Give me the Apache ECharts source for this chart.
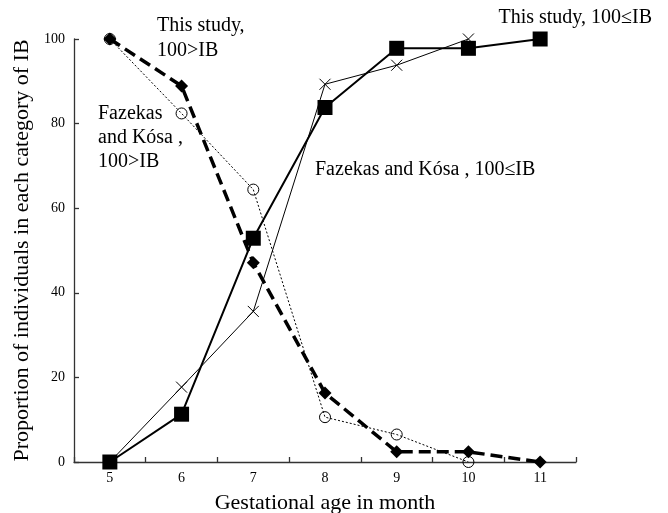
<!DOCTYPE html>
<html><head><meta charset="utf-8">
<script src="https://cdn.jsdelivr.net/npm/echarts@6/dist/echarts.min.js"></script>
<style>html,body{margin:0;padding:0;background:#fff}#c{width:668px;height:513px}</style>
</head><body><div id="c"></div>
<script>
const months = ['5','6','7','8','9','10','11'];
const thisStudyHigh = [0, 11.3, 52.9, 83.8, 97.8, 97.8, 100];
const fazekasHigh = [0, 17.7, 35.6, 89.3, 93.8, 100, null];
const thisStudyLow = [100, 88.9, 47.1, 16.3, 2.4, 2.4, 0];
const fazekasLow = [100, 82.4, 64.4, 10.6, 6.5, 0, null];
const yTicks = [0, 20, 40, 60, 80, 100];

const FONT = '"Liberation Serif", "DejaVu Serif", serif';
const chart = echarts.init(document.getElementById('c'));
chart.setOption({
  animation: false,
  backgroundColor: '#fff',
  grid: {left: 74, right: 92, top: 39, bottom: 51, containLabel: false, outerBoundsMode: 'none'},
  xAxis: {
    type: 'category', data: months, boundaryGap: true,
    name: 'Gestational age in month', nameLocation: 'middle', nameGap: 30,
    nameTextStyle: {fontFamily: FONT, fontSize: 22, color: '#000'},
    axisLine: {lineStyle: {color: '#333', width: 1.3}},
    axisTick: {show: true, inside: true, length: 5, lineStyle: {color: '#333', width: 1.3}},
    axisLabel: {fontFamily: FONT, fontSize: 14, color: '#000', margin: 9},
    splitLine: {show: false}
  },
  yAxis: {
    type: 'value', min: yTicks[0], max: yTicks[yTicks.length-1], interval: 20,
    name: 'Proportion of individuals in each category of IB', nameLocation: 'middle', nameGap: 39,
    nameTextStyle: {fontFamily: FONT, fontSize: 22, color: '#000'},
    axisLine: {show: true, lineStyle: {color: '#333', width: 1.3}},
    axisTick: {show: true, inside: true, length: 5, lineStyle: {color: '#333', width: 1.3}},
    axisLabel: {fontFamily: FONT, fontSize: 14, color: '#000', margin: 9},
    splitLine: {show: false}
  },
  series: [
    {name: 'Fazekas 100>IB', type: 'line', data: fazekasLow, symbol: 'circle', symbolSize: 11,
     lineStyle: {color: '#000', width: 1, type: [2, 2]}, itemStyle: {color: 'rgba(0,0,0,0)', borderColor: '#000', borderWidth: 1}, z: 2},
    {name: 'Fazekas 100<=IB', type: 'line', data: fazekasHigh, symbol: 'path://M0,0L10,10M10,0L0,10', symbolSize: 11,
     lineStyle: {color: '#000', width: 1}, itemStyle: {color: 'none', borderColor: '#000', borderWidth: 1}, z: 3},
    {name: 'This study 100>IB', type: 'line', data: thisStudyLow, symbol: 'diamond', symbolSize: 13,
     lineStyle: {color: '#000', width: 3.5, type: [12, 6]}, itemStyle: {color: '#000'}, z: 4},
    {name: 'This study 100<=IB', type: 'line', data: thisStudyHigh, symbol: 'rect', symbolSize: 15,
     lineStyle: {color: '#000', width: 2}, itemStyle: {color: '#000'}, z: 5}
  ],
  graphic: [
    {type: 'text', left: 157, top: 13, style: {text: 'This study,\n100>IB', font: '20px ' + FONT, fill: '#000', lineHeight: 25}},
    {type: 'text', left: 98, top: 102, style: {text: 'Fazekas\nand Kósa ,\n100>IB', font: '20px ' + FONT, fill: '#000', lineHeight: 24}},
    {type: 'text', right: 16, top: 8, style: {text: 'This study, 100≤IB', font: '20px ' + FONT, fill: '#000'}},
    {type: 'text', left: 315, top: 160, style: {text: 'Fazekas and Kósa , 100≤IB', font: '20px ' + FONT, fill: '#000'}}
  ]
});
</script></body></html>
